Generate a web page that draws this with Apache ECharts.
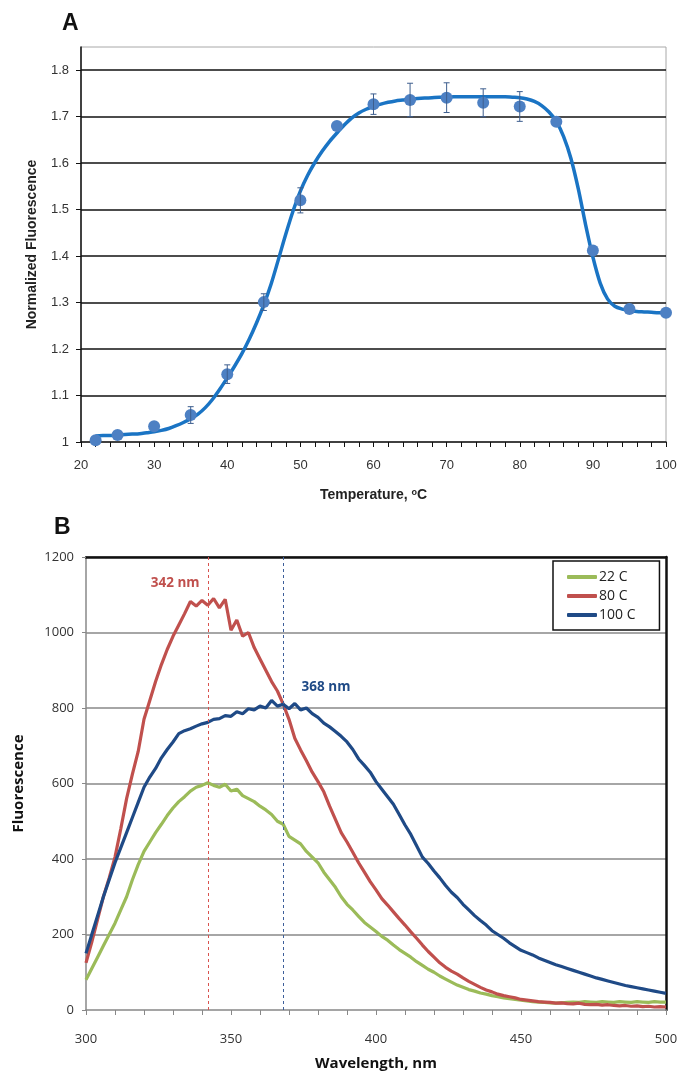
<!DOCTYPE html>
<html>
<head>
<meta charset="utf-8">
<script src="https://cdn.jsdelivr.net/npm/echarts@6/dist/echarts.min.js"></script>
<style>html,body{margin:0;padding:0;background:#fff}#c{width:683px;height:1080px}</style>
</head>
<body>
<div id="c"></div>
<script>
// ---------- Panel A data ----------
const tempPts  = [22, 25, 30, 35, 40, 45, 50, 55, 60, 65, 70, 75, 80, 85, 90, 95, 100];
const fluorPts = [1.004, 1.015, 1.034, 1.058, 1.146, 1.301, 1.52, 1.68, 1.727, 1.736, 1.741, 1.73, 1.722, 1.689, 1.412, 1.286, 1.278];
const fluorErr = [0, 0, 0, 0.018, 0.02, 0.018, 0.027, 0, 0.022, 0.036, 0.032, 0.03, 0.032, 0, 0, 0, 0];
const fitTemp  = [22,23,24,25,26,27,28,29,30,31,32,33,34,35,36,37,38,39,40,41,42,43,44,45,46,47,48,49,50,51,52,53,54,55,56,57,58,59,60,61,62,63,64,65,66,67,68,69,70,71,72,73,74,75,76,77,78,79,80,81,82,83,84,85,86,87,88,89,90,91,92,93,94,95,96,97,98,99,100];
const fitFluor = [1.013,1.014,1.014,1.015,1.016,1.017,1.018,1.020,1.022,1.025,1.029,1.035,1.042,1.050,1.060,1.074,1.092,1.114,1.138,1.163,1.190,1.221,1.256,1.295,1.340,1.393,1.447,1.497,1.540,1.574,1.602,1.626,1.647,1.665,1.682,1.697,1.708,1.716,1.722,1.727,1.731,1.734,1.736,1.738,1.739,1.740,1.741,1.742,1.742,1.743,1.743,1.743,1.743,1.743,1.743,1.743,1.743,1.742,1.741,1.738,1.733,1.724,1.710,1.690,1.657,1.610,1.545,1.468,1.398,1.342,1.308,1.292,1.286,1.283,1.281,1.280,1.279,1.278,1.278];
const tempTicks = [20, 30, 40, 50, 60, 70, 80, 90, 100];

// ---------- Panel B data ----------
const wavelength = [300,302,304,306,308,310,312,314,316,318,320,322,324,326,328,330,332,334,336,338,340,342,344,346,348,350,352,354,356,358,360,362,364,366,368,370,372,374,376,378,380,382,384,386,388,390,392,394,396,398,400,402,404,406,408,410,412,414,416,418,420,422,424,426,428,430,432,434,436,438,440,442,444,446,448,450,452,454,456,458,460,462,464,466,468,470,472,474,476,478,480,482,484,486,488,490,492,494,496,498,500];
const f22C  = [80,110,140,170,200,230,265,300,345,385,420,445,470,492,515,535,552,565,580,590,595,602,595,590,598,580,585,568,560,552,540,530,518,500,492,460,450,440,420,405,390,365,345,325,300,280,265,248,232,220,208,195,185,172,160,150,140,128,118,108,100,90,82,74,66,60,54,50,45,42,38,35,32,30,28,26,24,22,21,20,19,18,19,20,21,20,22,21,20,22,21,20,22,21,20,22,21,20,22,21,21];
const f80C  = [125,180,240,300,350,405,480,560,625,685,770,820,870,915,955,990,1020,1050,1082,1070,1085,1072,1090,1065,1088,1006,1033,990,1000,960,930,900,870,845,810,770,720,689,660,630,605,578,540,505,470,445,418,390,365,340,318,295,278,260,242,225,207,190,172,155,140,125,113,103,95,85,76,68,60,53,48,42,38,35,32,28,26,24,22,21,20,18,19,17,16,18,15,14,15,13,14,12,11,12,10,11,9,10,8,9,8];
const f100C = [150,200,250,300,345,390,430,470,510,550,590,617,640,668,690,710,732,740,745,752,758,762,770,772,780,778,790,785,798,795,805,800,820,805,810,798,812,795,800,785,775,760,750,738,725,710,690,665,648,630,605,585,565,545,518,490,465,435,405,388,368,350,330,312,298,280,265,250,237,225,210,200,190,178,168,158,152,146,138,132,126,120,115,110,105,100,95,90,85,81,77,73,69,65,62,59,56,53,50,47,44];
const seriesNames = ['22 C', '80 C', '100 C'];
const peakNm = [342, 368];
const peakLabels = ['342 nm', '368 nm'];

const chart = echarts.init(document.getElementById('c'), null, {renderer: 'canvas'});
const arial = 'Liberation Sans, Arial, sans-serif';
const cal = 'Open Sans, Noto Sans, sans-serif';
const C_GREEN = '#9bbb59', C_RED = '#c0504d', C_BLUE = '#1f4a86';

function pairs(xs, ys) { return xs.map((x, i) => [x, ys[i]]); }

const option = {
  animation: false,
  backgroundColor: '#fff',
  title: [
    {text: 'A', left: 57, top: 7, textStyle: {fontFamily: arial, fontWeight: 'bold', fontSize: 23, color: '#111'}},
    {text: 'B', left: 49, top: 511, textStyle: {fontFamily: arial, fontWeight: 'bold', fontSize: 23, color: '#111'}}
  ],
  legend: {
    data: seriesNames,
    orient: 'vertical',
    left: 553, top: 561,
    padding: [9, 24, 8, 14],
    itemGap: 5,
    itemWidth: 30, itemHeight: 4,
    icon: 'roundRect',
    backgroundColor: '#fff',
    borderColor: '#111', borderWidth: 1.5,
    textStyle: {fontFamily: cal, fontSize: 14, color: '#222', padding: [0, 0, 0, -3]}
  },
  grid: [
    {left: 81, right: 17, top: 47, height: 395, show: true, borderColor: '#a8a8a8', borderWidth: 1, backgroundColor: 'transparent'},
    {left: 86, right: 17, top: 557, height: 453}
  ],
  xAxis: [
    {
      type: 'value', gridIndex: 0, min: 20, max: 100, interval: 10,
      name: 'Temperature, {sup|o}C', nameLocation: 'middle', nameGap: 46,
      nameTextStyle: {fontFamily: arial, fontWeight: 'bold', fontSize: 14, color: '#222',
        rich: {sup: {fontFamily: arial, fontWeight: 'bold', fontSize: 9, verticalAlign: 'top', padding: [0, 0, 6, 0], color: '#222'}}},
      axisLine: {show: true, lineStyle: {color: '#111', width: 1.5}},
      axisTick: {show: true, length: 5, lineStyle: {color: '#111', width: 1}},
      minorTick: {show: true, splitNumber: 5, length: 5, lineStyle: {color: '#111', width: 1}},
      axisLabel: {fontFamily: arial, fontSize: 13, color: '#333', margin: 17},
      splitLine: {show: false}
    },
    {
      type: 'value', gridIndex: 1, min: 300, max: 500, interval: 50,
      name: 'Wavelength, nm', nameLocation: 'middle', nameGap: 46,
      nameTextStyle: {fontFamily: cal, fontWeight: 'bold', fontSize: 15, color: '#111'},
      axisLine: {show: true, lineStyle: {color: '#888', width: 1.5}},
      axisTick: {show: true, length: 5, lineStyle: {color: '#888', width: 1}},
      minorTick: {show: true, splitNumber: 5, length: 5, lineStyle: {color: '#888', width: 1}},
      axisLabel: {fontFamily: cal, fontSize: 13, color: '#333', margin: 23},
      splitLine: {show: false}
    },
    {
      type: 'value', gridIndex: 1, position: 'top', min: 300, max: 500,
      axisLine: {show: true, onZero: false, lineStyle: {color: '#111', width: 2.5}},
      axisTick: {show: false}, axisLabel: {show: false}, splitLine: {show: false}
    }
  ],
  yAxis: [
    {
      type: 'value', gridIndex: 0, min: 1, max: 1.85, interval: 0.1,
      name: 'Normalized Fluorescence', nameLocation: 'middle', nameGap: 42,
      nameTextStyle: {fontFamily: arial, fontWeight: 'bold', fontSize: 14, color: '#222'},
      axisLine: {show: true, lineStyle: {color: '#111', width: 1.5}},
      axisTick: {show: true, length: 5, lineStyle: {color: '#111', width: 1}},
      axisLabel: {fontFamily: arial, fontSize: 13, color: '#333', margin: 12, showMaxLabel: false},
      splitLine: {show: true, showMinLine: false, showMaxLine: false, lineStyle: {color: '#111', width: 1.5}}
    },
    {
      type: 'value', gridIndex: 1, min: 0, max: 1200, interval: 200,
      name: 'Fluorescence', nameLocation: 'middle', nameGap: 60,
      nameTextStyle: {fontFamily: cal, fontWeight: 'bold', fontSize: 15, color: '#111'},
      axisLine: {show: true, lineStyle: {color: '#888', width: 1.5}},
      axisTick: {show: true, length: 4, lineStyle: {color: '#888', width: 1}},
      axisLabel: {fontFamily: cal, fontSize: 13, color: '#333', margin: 12, formatter: v => String(v)},
      splitLine: {show: true, showMinLine: false, lineStyle: {color: '#888', width: 1.5}}
    },
    {
      type: 'value', gridIndex: 1, position: 'right', min: 0, max: 1200,
      axisLine: {show: true, onZero: false, lineStyle: {color: '#111', width: 2.5}},
      axisTick: {show: false}, axisLabel: {show: false}, splitLine: {show: false}
    }
  ],
  series: [
    {
      type: 'line', xAxisIndex: 0, yAxisIndex: 0, data: pairs(fitTemp, fitFluor),
      smooth: 0.3, showSymbol: false, silent: true,
      lineStyle: {color: '#1a74c4', width: 3.5}, z: 2
    },
    {
      type: 'scatter', xAxisIndex: 0, yAxisIndex: 0, data: pairs(tempPts, fluorPts),
      symbol: 'circle', symbolSize: 12, itemStyle: {color: '#4d80c3', opacity: 1}, z: 3
    },
    {
      type: 'custom', xAxisIndex: 0, yAxisIndex: 0, z: 4,
      data: tempPts.map((t, i) => [t, fluorPts[i], fluorErr[i]]),
      renderItem: function (params, api) {
        const x = api.value(0), y = api.value(1), e = api.value(2);
        if (!e) return null;
        const top = api.coord([x, y + e]), bot = api.coord([x, y - e]);
        const w = 3, st = {stroke: '#3d5e8e', lineWidth: 1};
        return {type: 'group', children: [
          {type: 'line', shape: {x1: top[0], y1: top[1], x2: bot[0], y2: bot[1]}, style: st},
          {type: 'line', shape: {x1: top[0] - w, y1: top[1], x2: top[0] + w, y2: top[1]}, style: st},
          {type: 'line', shape: {x1: bot[0] - w, y1: bot[1], x2: bot[0] + w, y2: bot[1]}, style: st}
        ]};
      }
    },
    {
      name: seriesNames[0], type: 'line', xAxisIndex: 1, yAxisIndex: 1, data: pairs(wavelength, f22C),
      showSymbol: false, lineStyle: {color: C_GREEN, width: 3.2}, itemStyle: {color: C_GREEN},
      markLine: {
        silent: true, symbol: 'none', animation: false,
        label: {show: false},
        data: [
          {xAxis: peakNm[0], lineStyle: {color: '#d9534f', type: [3, 3], width: 1}},
          {xAxis: peakNm[1], lineStyle: {color: '#3d5f9a', type: [3, 3], width: 1}}
        ]
      }
    },
    {
      name: seriesNames[1], type: 'line', xAxisIndex: 1, yAxisIndex: 1, data: pairs(wavelength, f80C),
      showSymbol: false, lineStyle: {color: C_RED, width: 3.2}, itemStyle: {color: C_RED},
      markPoint: {
        symbol: 'circle', symbolSize: 0, silent: true,
        label: {show: true, position: 'left', distance: 1, formatter: peakLabels[0], fontFamily: cal, fontWeight: 'bold', fontSize: 13.5, color: C_RED},
        data: [{coord: [peakNm[0] - 2.5, 1130]}]
      }
    },
    {
      name: seriesNames[2], type: 'line', xAxisIndex: 1, yAxisIndex: 1, data: pairs(wavelength, f100C),
      showSymbol: false, lineStyle: {color: C_BLUE, width: 3.2}, itemStyle: {color: C_BLUE},
      markPoint: {
        symbol: 'circle', symbolSize: 0, silent: true,
        label: {show: true, position: 'right', distance: 1, formatter: peakLabels[1], fontFamily: cal, fontWeight: 'bold', fontSize: 13.5, color: C_BLUE},
        data: [{coord: [peakNm[1] + 6, 856]}]
      }
    }
  ]
};
chart.setOption(option);
</script>
</body>
</html>
